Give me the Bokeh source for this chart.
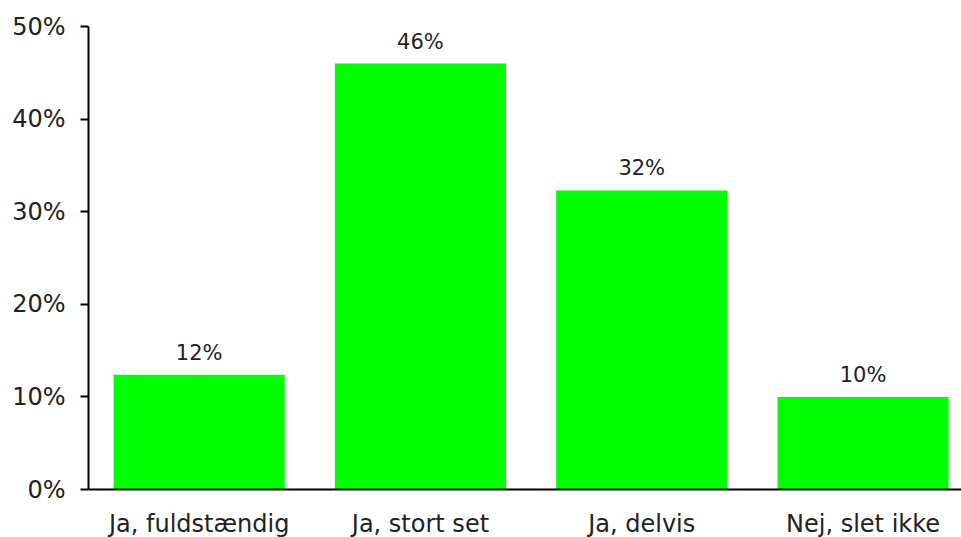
from bokeh.plotting import figure
from bokeh.models import Range1d, FixedTicker, ColumnDataSource, LabelSet, Span
from bokeh.core.properties import value
from bokeh.embed import file_html
from bokeh.resources import INLINE

categories = ["Ja, fuldstændig", "Ja, stort set", "Ja, delvis", "Nej, slet ikke"]
values = [12.4, 46.0, 32.3, 10.0]
value_labels = ["12%", "46%", "32%", "10%"]
y_ticks = [0, 10, 20, 30, 40, 50]

FONT = "DejaVu Sans"
xs = list(range(len(categories)))
src = ColumnDataSource(dict(x=xs, top=values, lab=value_labels,
                            base=[0] * len(xs), cat=categories))

# frame: 26px top margin, 0..50 spans 463px, 48px below the zero line for the category labels
y_max = 50
y_min = -y_max * 48 / 463

p = figure(width=961, height=537, output_backend="svg", toolbar_location=None,
           x_range=Range1d(-0.5, 3.445), y_range=Range1d(y_min, y_max),
           min_border_left=88, min_border_right=0, min_border_top=26, min_border_bottom=0)
p.outline_line_color = None
p.grid.visible = False
p.background_fill_color = "white"
p.border_fill_color = "white"
p.xaxis.visible = False

p.vbar(x="x", top="top", width=0.773, bottom=0, source=src, fill_color="#00FF00", line_color=None)

p.add_layout(Span(location=0, dimension="width", line_color="black", line_width=2))

labels = LabelSet(x="x", y="top", text="lab", source=src, text_align="center",
                  text_baseline="alphabetic", y_offset=15, text_font=value(FONT),
                  text_font_size="21px", text_color="#222222")
p.add_layout(labels)

p.text(x="x", y="base", text="cat", source=src, text_align="center",
       text_baseline="alphabetic", y_offset=34, text_font=value(FONT),
       text_font_size="24px", text_color="#222222")

p.yaxis.bounds = (0, y_max)
p.yaxis.ticker = FixedTicker(ticks=y_ticks)
p.yaxis.major_label_overrides = {t: f"{t}%" for t in y_ticks}
p.yaxis.minor_tick_line_color = None
p.yaxis.major_tick_out = 8
p.yaxis.major_tick_in = 0
p.yaxis.major_tick_line_width = 2
p.yaxis.axis_line_width = 2
p.yaxis.major_label_standoff = 15
p.yaxis.major_label_text_font = FONT
p.yaxis.major_label_text_font_size = "24px"
p.yaxis.major_label_text_color = "#222222"

open("out.html", "w").write(file_html(p, INLINE))
